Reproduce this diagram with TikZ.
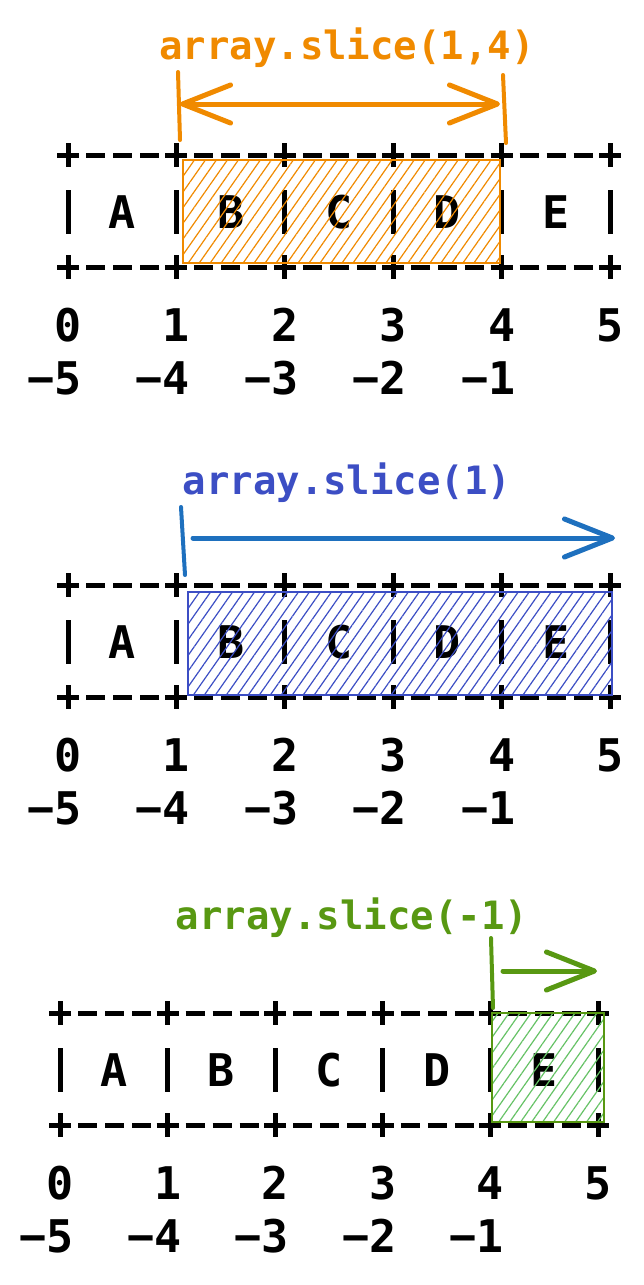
\documentclass[tikz,border=0pt]{standalone}
\usepackage{fontspec}
\newfontfamily\codefont{DejaVu Sans Mono}
\usetikzlibrary{arrows.meta, patterns.meta}

\definecolor{sliceorange}{RGB}{240,138,0}
\definecolor{sliceblue}{RGB}{60,78,196}
\definecolor{arrowblue}{RGB}{30,112,190}
\definecolor{slicegreen}{RGB}{88,152,18}
\definecolor{hatchgreen}{RGB}{102,194,102}

\begin{document}
\begin{tikzpicture}[x=1pt,y=-1pt,
    >={Straight Barb[length=48pt,width=38pt,round]},
    cell/.style={font=\codefont\bfseries\fontsize{45}{45}\selectfont, inner sep=0pt},
    title/.style={font=\codefont\bfseries\fontsize{39}{39}\selectfont, inner sep=0pt},
    rule/.style={line width=5pt},
    bracket/.style={line width=4pt, line cap=round},
    span/.style={line width=5pt, line cap=round},
    hatchbox/.style={line width=2pt, pattern={Lines[angle=55,distance=9pt,line width=1.2pt]}}]

\useasboundingbox (0,0) rectangle (644,1285);

% the three tables
\foreach \pn/\xo/\w/\yo in {one/68/108.4/0, two/68/108.4/430, three/60/107.6/858} {
  \foreach \k in {0,...,5} {
    \coordinate (\pn-t\k) at ({\xo+\k*\w}, {155+\yo});
    \coordinate (\pn-m\k) at ({\xo+\k*\w}, {212+\yo});
    \coordinate (\pn-b\k) at ({\xo+\k*\w}, {267+\yo});
    \draw[rule] (\pn-t\k) ++(-11,0) -- ++(22,0) (\pn-t\k) ++(0,-12) -- ++(0,24);
    \draw[rule] (\pn-b\k) ++(-11,0) -- ++(22,0) (\pn-b\k) ++(0,-12) -- ++(0,24);
    \draw[rule] (\pn-m\k) ++(0,-22) -- ++(0,44);
    \node[cell] (\pn-i\k) at ({\xo+\k*\w}, {325+\yo}) {\k};
  }
  \foreach \k in {0,...,4} {
    \draw[rule, dash pattern=on 19pt off 8pt] (\pn-t\k) ++(18,0) -- ++(73,0);
    \draw[rule, dash pattern=on 19pt off 8pt] (\pn-b\k) ++(18,0) -- ++(73,0);
    \pgfmathtruncatemacro{\neg}{5-\k}
    \node[cell] (\pn-n\k) at ({\xo+\k*\w-13.5}, {378+\yo}) {−\neg};
  }
  \foreach \k/\c in {0/A, 1/B, 2/C, 3/D, 4/E}
    \node[cell] (\pn-\c) at ({\xo+(\k+0.5)*\w}, {212+\yo}) {\c};
}

% array.slice(1,4)
\node[title, text=sliceorange] (label-one) at (347,48) {array.slice(1,4)};
\coordinate (one-l1) at (178,72);
\coordinate (one-l2) at (180,140);
\coordinate (one-r1) at (503,75);
\coordinate (one-r2) at (506,143);
\coordinate (one-from) at (180,104);
\coordinate (one-to) at (500,104);
\coordinate (one-nw) at (183,160);
\coordinate (one-se) at (500,263);
\draw[hatchbox, draw=sliceorange, pattern color=sliceorange] (one-nw) rectangle (one-se);
\draw[bracket, sliceorange] (one-l1) -- (one-l2);
\draw[bracket, sliceorange] (one-r1) -- (one-r2);
\draw[span, sliceorange, <->] (one-from) -- (one-to);

% array.slice(1)
\node[title, text=sliceblue] (label-two) at (347,483) {array.slice(1)};
\coordinate (two-l1) at (181,507);
\coordinate (two-l2) at (185,575);
\coordinate (two-from) at (193,538);
\coordinate (two-to) at (615,538);
\coordinate (two-nw) at (188,592);
\coordinate (two-se) at (612,695);
\draw[hatchbox, draw=sliceblue, pattern color=sliceblue] (two-nw) rectangle (two-se);
\draw[bracket, arrowblue] (two-l1) -- (two-l2);
\draw[span, arrowblue, ->] (two-from) -- (two-to);

% array.slice(-1)
\node[title, text=slicegreen] (label-three) at (352,918) {array.slice(-1)};
\coordinate (three-l1) at (491,938);
\coordinate (three-l2) at (493,1008);
\coordinate (three-from) at (503,971);
\coordinate (three-to) at (597,971);
\coordinate (three-nw) at (492,1013);
\coordinate (three-se) at (604,1122);
\draw[hatchbox, draw=slicegreen, pattern color=hatchgreen] (three-nw) rectangle (three-se);
\draw[bracket, slicegreen] (three-l1) -- (three-l2);
\draw[span, slicegreen, ->] (three-from) -- (three-to);

\end{tikzpicture}
\end{document}
